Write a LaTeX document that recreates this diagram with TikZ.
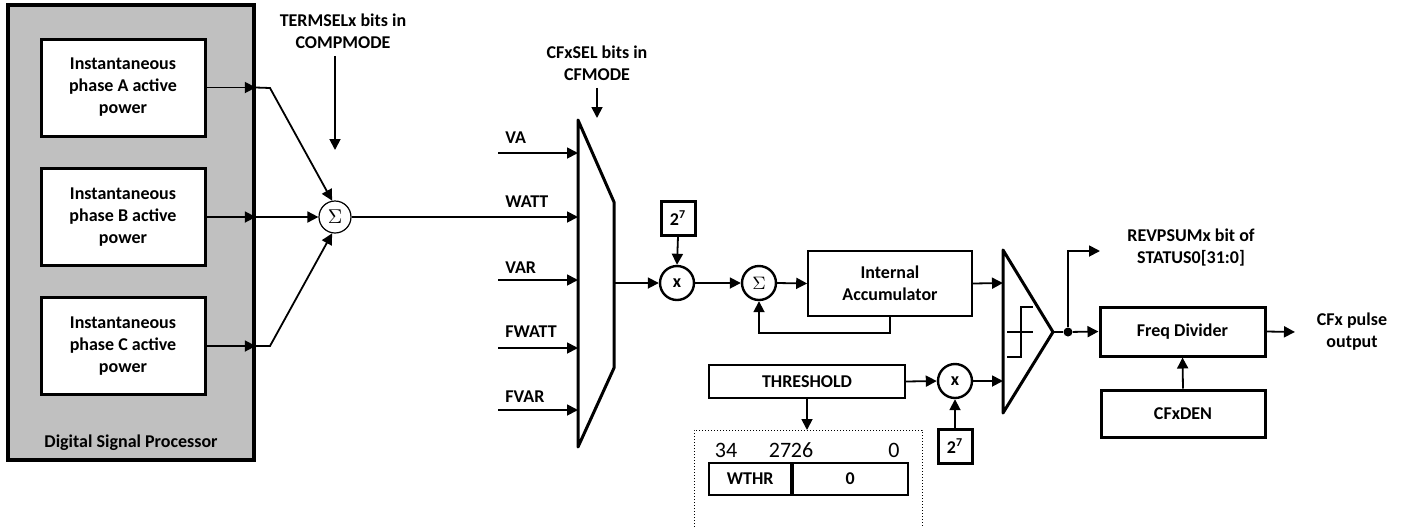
\documentclass[tikz,border=0pt]{standalone}
\usepackage{fontspec}
\setmainfont{Carlito}
\usetikzlibrary{arrows.meta,calc}
\definecolor{dspgray}{RGB}{192,192,192}

\begin{document}
\begin{tikzpicture}[x=0.5pt,y=-0.5pt,
    txt/.style={font=\fontsize{9}{11}\selectfont\bfseries, align=center},
    num/.style={font=\fontsize{11}{13}\selectfont},
    blk/.style={txt, draw, line width=1.5pt, fill=white, inner sep=0pt},
    thinblk/.style={txt, draw, line width=0.8pt, fill=white, inner sep=0pt},
    sumc/.style={circle, draw, line width=0.6pt, fill=white, minimum size=16pt, inner sep=0pt},
    mulc/.style={circle, draw, line width=1.2pt, fill=white, minimum size=17pt, inner sep=0pt, txt},
    arr/.style={-{Triangle[length=5.5pt,width=5.5pt]}, line width=0.9pt},
    ln/.style={line width=0.9pt}]
    \useasboundingbox (0,0) rectangle (1405,526);
    % DSP block
    \node[draw, line width=1.8pt, fill=dspgray, minimum width=123pt, minimum height=227.5pt, inner sep=0pt] (dsp) at (131,232.5) {};
    \node[blk, minimum width=82pt, minimum height=48.5pt] (pa) at (123,87.5) {Instantaneous\\phase A active\\power};
    \node[blk, minimum width=82pt, minimum height=48.5pt] (pb) at (123,217) {Instantaneous\\phase B active\\power};
    \node[blk, minimum width=82pt, minimum height=48.5pt] (pc) at (123,346) {Instantaneous\\phase C active\\power};
    \node[txt] (dsplbl) at (131,443) {Digital Signal Processor};
    % summing of phases
    \node[sumc] (sig1) at (335,217) {$\Sigma$};
    \node[txt] (termsel) at (343,31.5) {TERMSELx bits in\\COMPMODE};
    \coordinate (tmend) at (335,150);
    \draw[arr] (tmend |- termsel.south) -- (tmend);
    \coordinate (ka) at (270,88);
    \coordinate (kc) at (270,346);
    \draw[arr] (pa.east) -- (pa.east -| dsp.east);
    \draw[arr] (pb.east) -- (pb.east -| dsp.east);
    \draw[arr] (pc.east) -- (pc.east -| dsp.east);
    \draw[arr] (pa.east -| dsp.east) -- (ka) -- (sig1.100);
    \draw[arr] (pb.east -| dsp.east) -- (sig1.west);
    \draw[arr] (pc.east -| dsp.east) -- (kc) -- (sig1.260);
    % mux
    \draw[line width=1.5pt, line join=round] (578,120) -- (614,202) -- (614,368) -- (578,447) -- cycle;
    \coordinate (muxout) at (614,283);
    \node[txt] (cfxsel) at (597,63.5) {CFxSEL bits in\\CFMODE};
    \coordinate (cfend) at (597,118);
    \draw[arr] (cfend |- cfxsel.south) -- (cfend);
    \foreach \nm/\yy/\ly in {VA/153/138, VAR/280/268, FWATT/348/332, FVAR/410/397}{
      \node[txt, anchor=west, inner sep=0pt] (lbl\nm) at (505,\ly) {\nm};
      \coordinate (in\nm) at (578,\yy);
      \draw[arr] (in\nm -| lbl\nm.west) ++(-7,0) -- (in\nm);
    }
    \node[txt, anchor=west, inner sep=0pt] (lblWATT) at (505,202) {WATT};
    \draw[arr] (sig1.east) -- (578,217);
    % scaling and accumulation
    \node[mulc] (mul1) at (677,283) {x};
    \node[blk, minimum size=17pt] (pow1) at (678,218) {2\textsuperscript{7}};
    \node[mulc] (sig2) at (759,283) {$\Sigma$};
    \node[thinblk, minimum width=82pt, minimum height=32.5pt] (acc) at (890,283.5) {Internal\\Accumulator};
    \draw[arr] (muxout) -- (mul1.west);
    \draw[arr] (pow1.south) -- (mul1.north);
    \draw[arr] (mul1.east) -- (sig2.west);
    \draw[arr] (sig2.east) -- (acc.west);
    \draw[arr] (acc.south) -- ++(0,16) -| (sig2.south);
    % threshold
    \node[thinblk, minimum width=98pt, minimum height=16.5pt] (thr) at (807,381.5) {THRESHOLD};
    \node[mulc] (mul2) at (955,381) {x};
    \node[blk, minimum size=17pt] (pow2) at (955,446) {2\textsuperscript{7}};
    \draw[arr] (thr.east) -- (mul2.west);
    \draw[arr] (pow2.north) -- (mul2.south);
    \draw[line width=0.5pt, densely dotted] (694,530) -- (694,430) -- (922,430) -- (922,530);
    \coordinate (frametop) at (807,430);
    \draw[arr] (thr.south) -- (frametop);
    \node[num] (b34) at (726,450) {34};
    \node[num] (b27) at (780,450) {27};
    \node[num] (b26) at (802,450) {26};
    \node[num] (b0) at (894,450) {0};
    \node[thinblk, minimum width=41pt, minimum height=16pt, anchor=east] (wthr) at (792,479) {WTHR};
    \node[thinblk, minimum width=57.5pt, minimum height=16pt, anchor=west] (zero) at (792,479) {0};
    % comparator
    \draw[line width=1.5pt, line join=round] (1003,250) -- (1053,332) -- (1003,413) -- cycle;
    \coordinate (cmpin1) at (1003,283);
    \coordinate (cmpin2) at (1003,381);
    \coordinate (cmpout) at (1053,332);
    \draw[line width=0.6pt] (1007,332) -- (1033,332);
    \draw[line width=0.6pt] (1007,357) -- (1021,357) -- (1021,307) -- (1033,307);
    \draw[arr] (acc.east) -- (cmpin1);
    \draw[arr] (mul2.east) -- (cmpin2);
    % output stage
    \node[circle, fill, inner sep=0pt, minimum size=4.5pt] (dot) at (1068,332) {};
    \node[blk, minimum width=82.5pt, minimum height=24.5pt] (fdiv) at (1182.5,331.5) {Freq Divider};
    \node[blk, minimum width=82pt, minimum height=23.5pt] (den) at (1183,413.5) {CFxDEN};
    \node[txt] (revp) at (1191,248) {REVPSUMx bit of\\STATUS0[31:0]};
    \node[txt] (cfout) at (1352,332) {CFx pulse\\output};
    \coordinate (revend) at (1100,251);
    \coordinate (cfend2) at (1295,332);
    \draw[ln] (cmpout) -- (dot);
    \draw[arr] (dot) -- (fdiv.west);
    \draw[arr] (dot) |- (revend);
    \draw[arr] (den.north) -- (fdiv.south);
    \draw[arr] (fdiv.east) -- (cfend2);
\end{tikzpicture}
\end{document}
